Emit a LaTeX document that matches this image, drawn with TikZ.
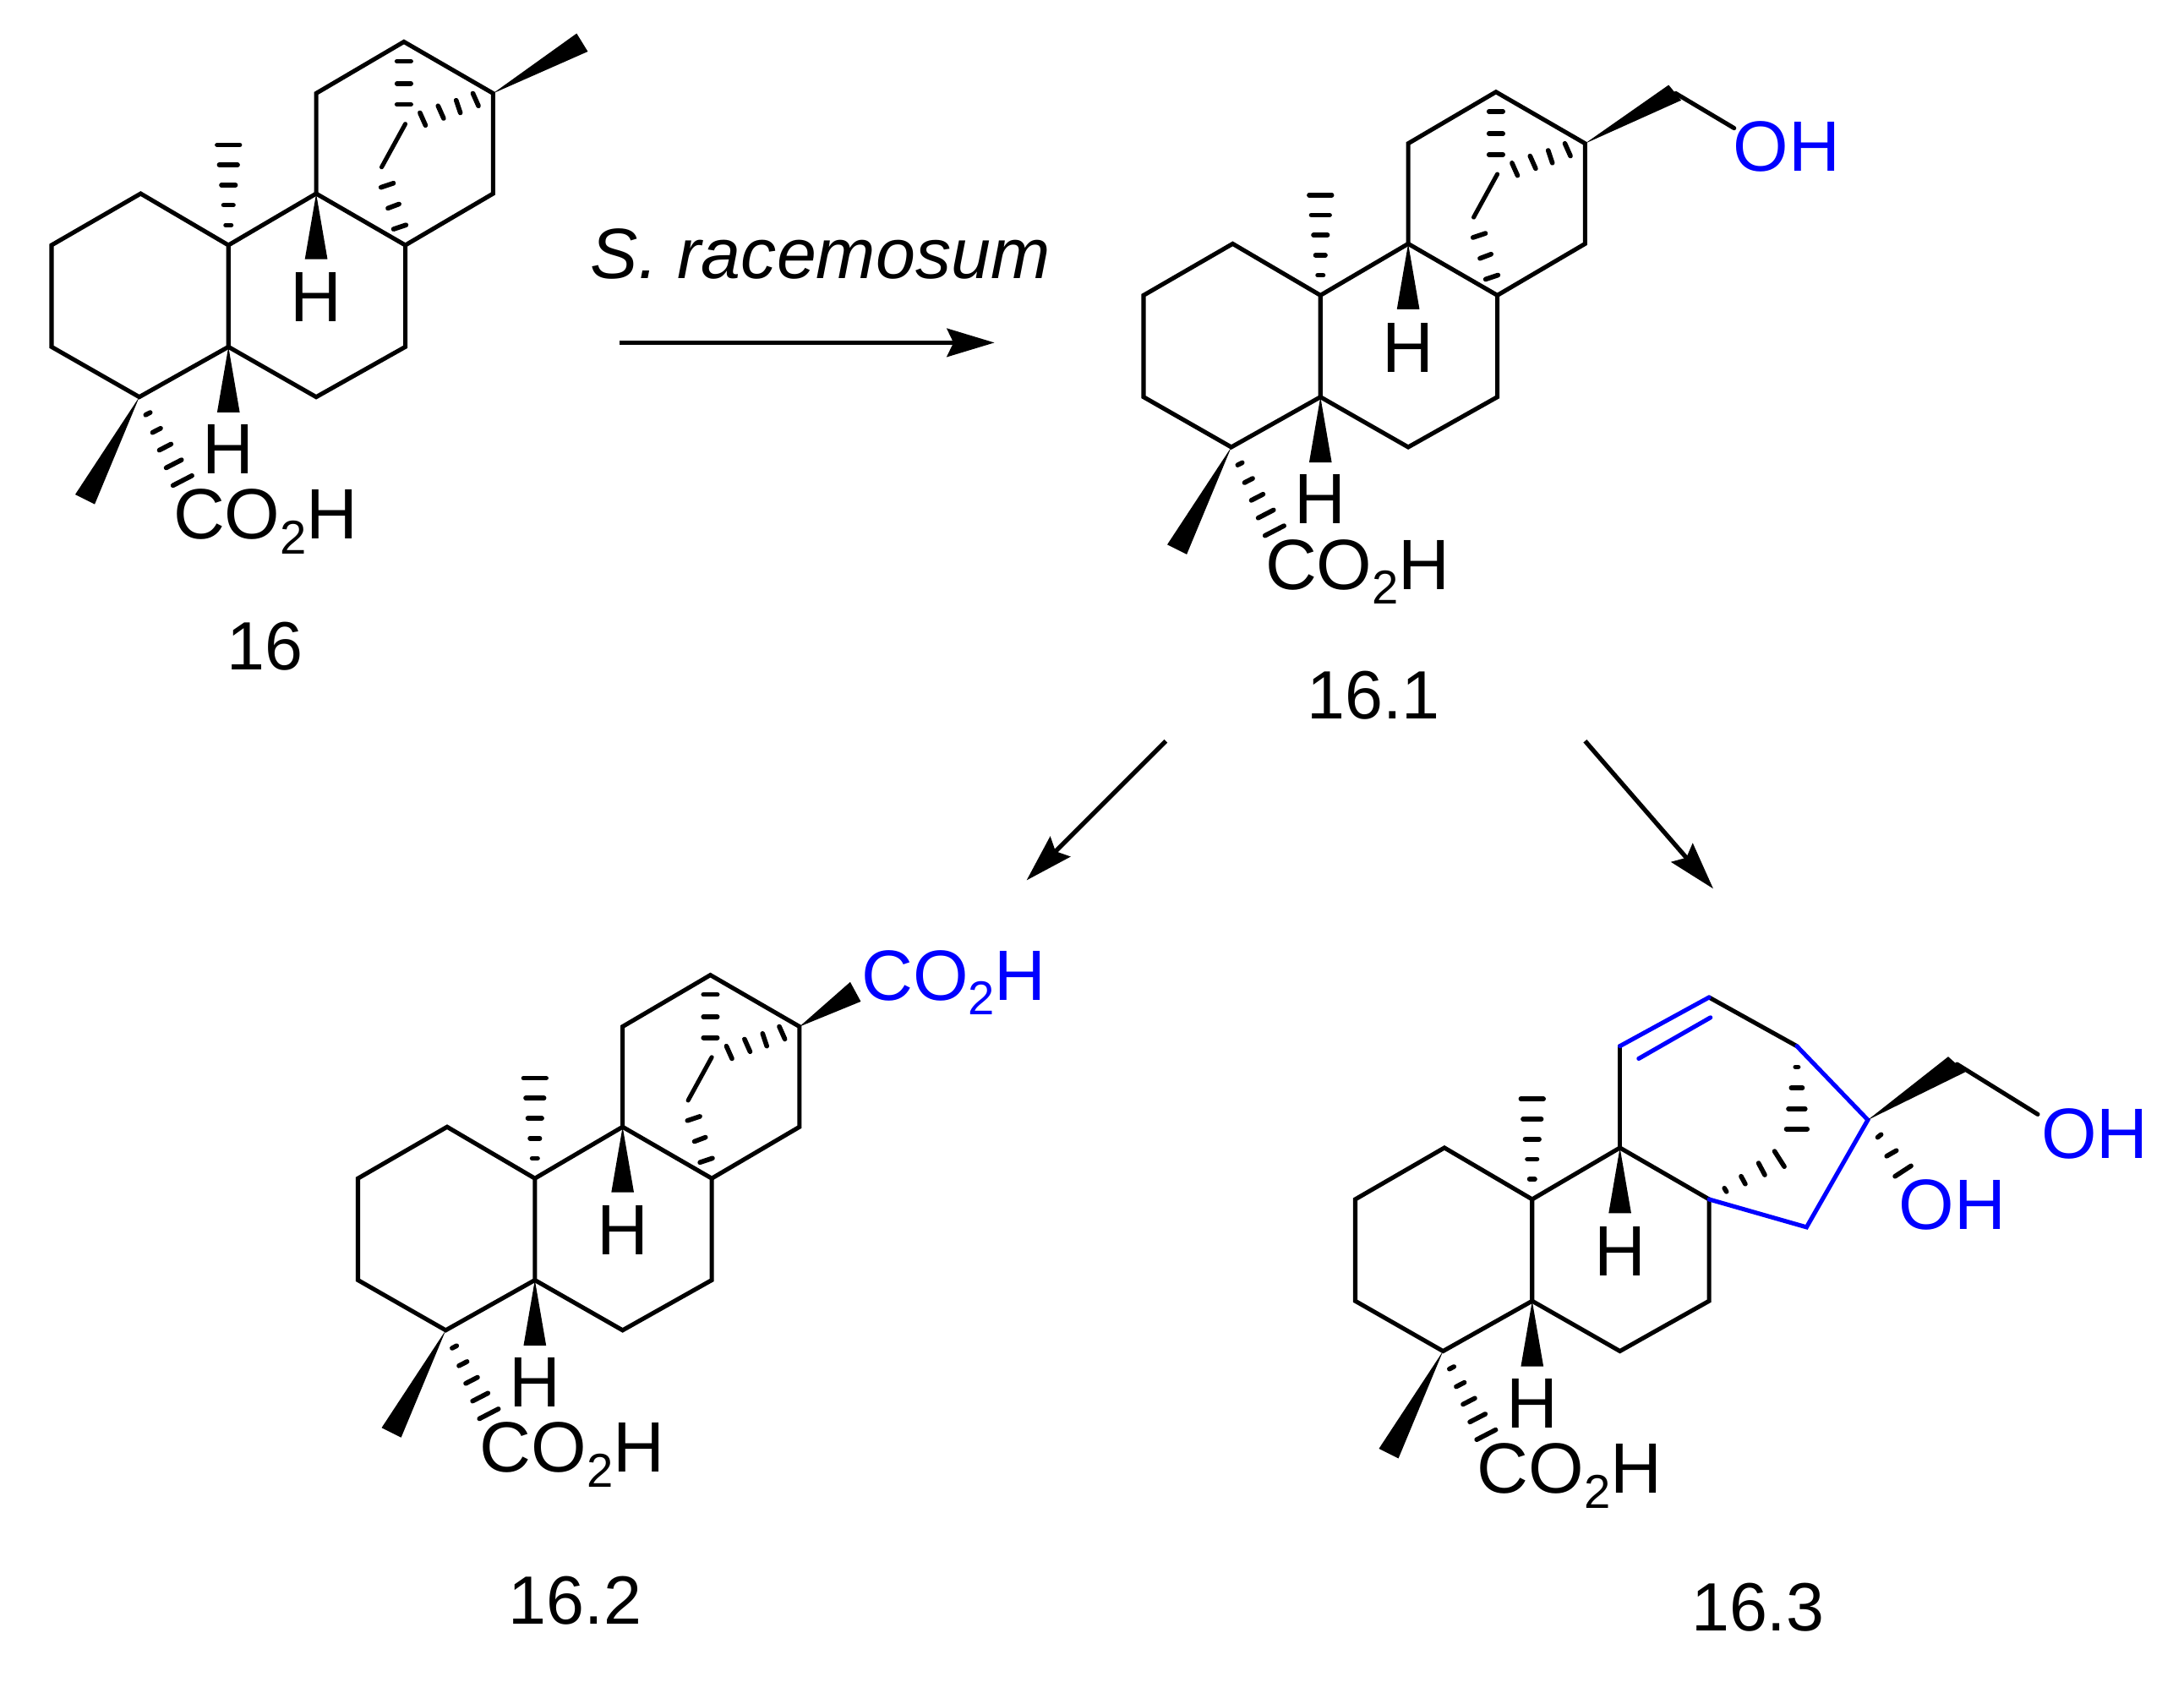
\documentclass[tikz,border=0pt]{standalone}
\usepackage{fontspec}
\setmainfont{Liberation Sans}
\usetikzlibrary{calc,arrows.meta}
\definecolor{hl}{RGB}{0,0,255}
\newcommand\cotwo{CO\raisebox{-5pt}{\fontsize{16}{16}\selectfont 2}H}
\tikzset{
  bond/.style={line width=1.45pt,line join=miter,line cap=round},
  bar/.style={line width=1.6pt,line cap=round},
  lab/.style={inner sep=0pt,font=\fontsize{24}{24}\selectfont,anchor=base},
  num/.style={inner sep=0pt,font=\fontsize{23}{23}\selectfont,anchor=base},
  labw/.style={inner sep=0pt,font=\fontsize{24}{24}\selectfont,anchor=base west},
  rxn/.style={line width=1.5pt,-{Stealth[length=16pt,width=9.5pt,inset=2.2pt]}}
}
% hashed wedge from #1 (narrow) to #2 (wide), half width #3 pt
\newcommand\hashw[3]{%
  \foreach \t in {0.2,0.4,0.6,0.8,1.0}{%
    \pgfmathsetmacro\dd{(0.05+0.95*\t)*#3}%
    \draw[bar] ($(#1)!\t!(#2)!\dd pt!90:(#1)$) -- ($(#1)!\t!(#2)!\dd pt!-90:(#1)$);
  }}
% solid wedge from #1 to #2, half width #3 pt
\newcommand\solidw[3]{%
  \fill ($(#2)!#3pt!90:(#1)$) -- (#1) -- ($(#2)!#3pt!-90:(#1)$) -- cycle;}
% common A/B rings
\newcommand\rings{%
  \coordinate (C10) at (0,0);
  \coordinate (C1) at (-63,-37);
  \coordinate (C2) at (-127,0);
  \coordinate (C3) at (-127,73);
  \coordinate (C4) at (-64,109);
  \coordinate (C5) at (0,73);
  \coordinate (C9) at (63,-37);
  \coordinate (C8) at (127,0);
  \coordinate (C7) at (127,73);
  \coordinate (C6) at (63,109);
  \coordinate (Me10) at (0,-72);
  \coordinate (H9e) at (63,10);
  \coordinate (H5e) at (0,120);
  \coordinate (Me4a) at (-110,179);
  \coordinate (Me4b) at (-96,186);
  \coordinate (Hs4) at (-33,169);
  \draw[bond] (C10) -- (C1) -- (C2) -- (C3) -- (C4) -- (C5) -- (C10) -- (C9) -- (C8) -- (C7) -- (C6) -- (C5);
  \solidw{C9}{H9e}{3.8}
  \solidw{C5}{H5e}{3.8}
  \fill (C4) -- (Me4a) -- (Me4b) -- cycle;
  \hashw{C10}{Me10}{3.8}
  \hashw{C4}{Hs4}{3.6}
  \node[lab] (H9) at (63,55) {H};
  \node[lab] (H5) at (0,164) {H};
  \node[labw] (acid) at (-40,211) {\cotwo};
}
% bicyclic bridge
\newcommand\bridge{%
  \coordinate (C11) at (63,-109);
  \coordinate (C12) at (126,-146);
  \coordinate (C13) at (190,-109);
  \coordinate (C14) at (190,-37);
  \draw[bond] (C9) -- (C11) -- (C12) -- (C13) -- (C14) -- (C8);
  \draw[bar] (121,-132) -- (131,-132);
  \draw[bar] (121,-116) -- (131,-116);
  \draw[bar] (121,-101) -- (131,-101);
  \draw[bar] (175.5,-109) -- (179.5,-100);
  \draw[bar] (163.5,-104) -- (166.5,-95);
  \draw[bar] (150.5,-100) -- (154.5,-91);
  \draw[bar] (137.5,-95) -- (141.5,-86);
  \draw[bond] (127,-87) -- (110,-56);
  \draw[bar] (109.5,-41.5) -- (118.5,-44.5);
  \draw[bar] (114.5,-26.5) -- (122.5,-29.5);
  \draw[bar] (118.5,-11.5) -- (127.5,-14.5);
}
\begin{document}
\begin{tikzpicture}[x=0.01648cm,y=-0.01648cm]
\useasboundingbox (0,0) rectangle (1568,1207.5);
% 16
\begin{scope}[shift={(164,176)},name prefix=a-]
  \rings\bridge
  \coordinate (W1) at (250,-152);
  \coordinate (W2) at (258,-139);
  \fill (C13) -- (W1) -- (W2) -- cycle;
  \node[num] (lbl) at (26,305) {16};
\end{scope}
% 16.1
\begin{scope}[shift={(948,212)},name prefix=b-]
  \rings\bridge
  \coordinate (W1) at (250,-151);
  \coordinate (W2) at (259,-140);
  \coordinate (CH) at (255,-145);
  \coordinate (OHe) at (297,-120);
  \fill (C13) -- (W1) -- (W2) -- cycle;
  \draw[bond] (CH) -- (OHe);
  \node[labw,text=hl] (oh) at (296,-89) {OH};
  \node[num] (lbl) at (38,304) {16.1};
\end{scope}
% 16.2
\begin{scope}[shift={(384,846)},name prefix=c-]
  \rings\bridge
  \coordinate (W1) at (226.4,-141);
  \coordinate (W2) at (234,-127);
  \fill (C13) -- (W1) -- (W2) -- cycle;
  \node[labw,text=hl] (acid2) at (234,-128) {\cotwo};
  \node[num] (lbl) at (29,320) {16.2};
\end{scope}
% 16.3
\begin{scope}[shift={(1100,861)},name prefix=d-]
  \rings
  \coordinate (D11) at (63,-110);
  \coordinate (D12) at (127,-145);
  \coordinate (D13) at (190,-110);
  \coordinate (D16) at (241,-57);
  \coordinate (D15) at (197,20);
  \coordinate (Di1) at (76.5,-101);
  \coordinate (Di2) at (128,-130.5);
  \coordinate (CH) at (305,-97);
  \coordinate (OHe) at (363,-61);
  \draw[bond] (C9) -- (D11);
  \draw[bond] (D12) -- (D13);
  \draw[bond,hl] (D11) -- (D12);
  \draw[bond,hl] (Di1) -- (Di2);
  \draw[bond,hl] (D13) -- (D16) -- (D15) -- (C8);
  \draw[bar] (189,-95) -- (191,-95);
  \draw[bar] (186,-80) -- (194,-80);
  \draw[bar] (184,-65) -- (196,-65);
  \draw[bar] (182.5,-50.5) -- (197.5,-50.5);
  \draw[bar] (138,-8) -- (139.5,-5.5);
  \draw[bar] (150,-16.5) -- (153,-11);
  \draw[bar] (162.5,-26) -- (167,-17.5);
  \draw[bar] (174,-34.5) -- (181,-23.5);
  \coordinate (W1) at (298.7,-102.4);
  \coordinate (W2) at (311,-91.4);
  \fill (D16) -- (W1) -- (W2) -- cycle;
  \draw[bond] (CH) -- (OHe);
  \draw[bar] (248,-44.5) -- (250.5,-46.5);
  \draw[bar] (254.5,-31) -- (261.5,-35);
  \draw[bar] (260.5,-16.5) -- (272,-24);
  \node[labw,text=hl] (oh1) at (365,-29.5) {OH};
  \node[labw,text=hl] (oh2) at (263,21.5) {OH};
  \node[num] (lbl) at (162,310) {16.3};
\end{scope}
% reaction arrows
\coordinate (r1a) at (445,246);
\coordinate (r1b) at (714,246);
\coordinate (r2a) at (837,532);
\coordinate (r2b) at (737,632);
\coordinate (r3a) at (1138,532);
\coordinate (r3b) at (1230,638);
\draw[rxn] (r1a) -- (r1b);
\draw[rxn] (r2a) -- (r2b);
\draw[rxn] (r3a) -- (r3b);
\node[lab,font=\fontsize{24}{24}\selectfont\itshape] (cond) at (589,200) {S. racemosum};
\end{tikzpicture}
\end{document}
